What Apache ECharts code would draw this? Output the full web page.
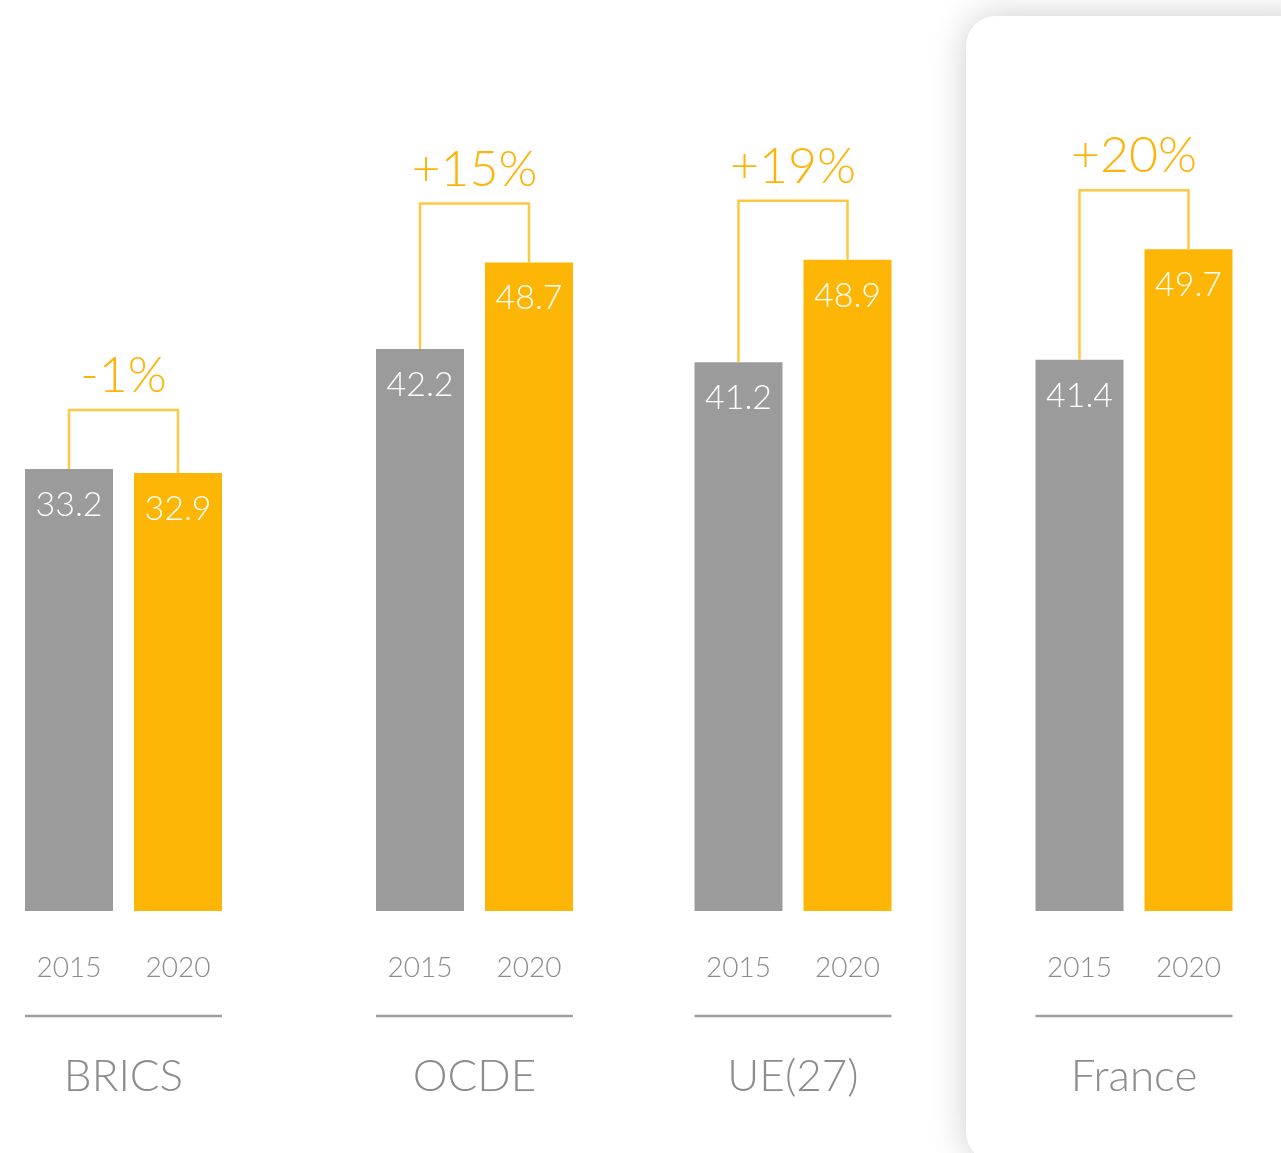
<!DOCTYPE html>
<html>
<head>
<meta charset="utf-8">
<script src="https://cdn.jsdelivr.net/npm/echarts@6/dist/echarts.min.js"></script>
<style>
html,body{margin:0;padding:0;background:#fff;}
#chart{width:1281px;height:1153px;}
</style>
</head>
<body>
<div id="chart"></div>
<script>
const groups = ['BRICS', 'OCDE', 'UE(27)', 'France'];
const years = ['2015', '2020'];
const values2015 = [33.2, 42.2, 41.2, 41.4];
const values2020 = [32.9, 48.7, 48.9, 49.7];
const changeLabels = ['-1%', '+15%', '+19%', '+20%'];

const GRAY = '#9b9b9b';
const YELLOW = '#fdb606';
const BRACKET = '#fdc843';
const TEXT_YELLOW = '#fdb40a';
const TEXT_GRAY = '#8c8c8c';
const FONT = 'Lato';

const gridLefts = [14.5, 365.5, 684, 1025];
const gridWidth = 218;

const chart = echarts.init(document.getElementById('chart'));

const grid = [], xAxis = [], yAxis = [], series = [];
groups.forEach((g, i) => {
  grid.push({left: gridLefts[i], width: gridWidth, top: 112, bottom: 242});
  xAxis.push({
    type: 'category', gridIndex: i, data: years,
    axisLine: {show: false}, axisTick: {show: false},
    axisLabel: {margin: 43, color: TEXT_GRAY, fontFamily: FONT, fontWeight: 300, fontSize: 28}
  });
  yAxis.push({type: 'value', gridIndex: i, min: 0, max: 60, show: false});
  series.push({
    type: 'bar', xAxisIndex: i, yAxisIndex: i, barWidth: 88,
    data: [
      {value: values2015[i], itemStyle: {color: GRAY}},
      {value: values2020[i], itemStyle: {color: YELLOW}}
    ],
    label: {
      show: true, position: 'insideTop', distance: 19,
      color: '#fff', fontFamily: FONT, fontWeight: 300, fontSize: 34,
      formatter: p => p.value.toFixed(1)
    },
    silent: true
  });
  series.push({
    type: 'custom', xAxisIndex: i, yAxisIndex: i, clip: false, silent: true,
    encode: {x: 0, y: [1, 2]},
    data: [[0, values2015[i], values2020[i]]],
    z: 3,
    renderItem: (params, api) => {
      const p1 = api.coord([0, api.value(1)]);
      const p2 = api.coord([1, api.value(2)]);
      const base = api.coord([0, 0])[1];
      const top = Math.min(p1[1], p2[1]) - 59;
      const mid = (p1[0] + p2[0]) / 2;
      return {
        type: 'group',
        children: [
          {type: 'polyline', shape: {points: [[p1[0], p1[1]], [p1[0], top], [p2[0], top], [p2[0], p2[1]]]},
           style: {stroke: BRACKET, lineWidth: 2.5, fill: null}},
          {type: 'text', style: {text: changeLabels[i], x: mid, y: top - 34, align: 'center', verticalAlign: 'middle',
            fill: TEXT_YELLOW, font: '300 50px ' + FONT}},
          {type: 'line', shape: {x1: p1[0] - 44, y1: base + 105, x2: p2[0] + 44, y2: base + 105},
           style: {stroke: '#9e9e9e', lineWidth: 2.5}},
          {type: 'text', style: {text: groups[i], x: mid, y: base + 166, align: 'center', verticalAlign: 'middle',
            fill: TEXT_GRAY, font: '300 44px ' + FONT}}
        ]
      };
    }
  });
});

chart.setOption({
  backgroundColor: '#fff',
  animation: false,
  graphic: [{
    type: 'rect', z: -10,
    shape: {x: 966, y: 16, width: 360, height: 1146, r: 30},
    style: {fill: '#fff', shadowBlur: 36, shadowColor: 'rgba(0,0,0,0.2)'}
  }],
  grid, xAxis, yAxis, series
});
</script>
</body>
</html>
